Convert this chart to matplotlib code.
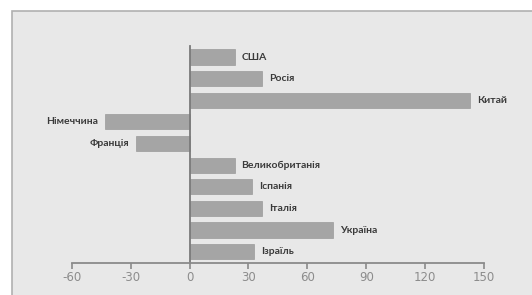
import matplotlib.pyplot as plt
from matplotlib.patches import Rectangle

# country labels and values (top to bottom)
countries = ['США', 'Росія', 'Китай', 'Німеччина', 'Франція',
             'Великобританія', 'Іспанія', 'Італія', 'Україна', 'Ізраїль']
values = [23, 37, 143, -43, -27, 23, 32, 37, 73, 33]
xticks = [-60, -30, 0, 30, 60, 90, 120, 150]

fig = plt.figure(figsize=(5.32, 2.95), dpi=100)
fig.patch.set_facecolor('white')

# grey panel behind the chart
panel = Rectangle((12 / 532, -0.05), 1.0, 1 - 11 / 295 + 0.05,
                  transform=fig.transFigure, facecolor='#e8e8e8',
                  edgecolor='#b0b0b0', linewidth=1.2, zorder=-5)
fig.patches.append(panel)

ax = fig.add_axes([71.7 / 532, 1 - 262.5 / 295, (484 - 71.7) / 532, (262.5 - 46.2) / 295])
ax.set_zorder(1)
ax.patch.set_alpha(0)

pos = list(range(len(countries)))
ax.barh(pos, values, height=0.7, color='#a5a5a5', edgecolor='#9a9a9a', linewidth=0.5, zorder=2)

for y, v, name in zip(pos, values, countries):
    if v >= 0:
        ax.annotate(name, (v, y), xytext=(5, 0), textcoords='offset points',
                    ha='left', va='center', fontsize=7.5, fontweight='bold',
                    family='Lato', color='#3a3a3a')
    else:
        ax.annotate(name, (v, y), xytext=(-5, 0), textcoords='offset points',
                    ha='right', va='center', fontsize=7.5, fontweight='bold',
                    family='Lato', color='#3a3a3a')

ax.set_xlim(-60, 150)
ax.set_ylim(len(countries) - 0.5, -0.5)
ax.set_xticks(xticks)
ax.set_xticklabels([str(t) for t in xticks], fontsize=8.5, color='#8c8c8c',
                   family='DejaVu Sans')
ax.set_yticks([])

ax.spines['top'].set_visible(False)
ax.spines['right'].set_visible(False)
ax.spines['left'].set_position(('data', 0))
ax.spines['left'].set_color('#7a7a7a')
ax.spines['left'].set_linewidth(1.3)
ax.spines['bottom'].set_color('#8a8a8a')
ax.spines['bottom'].set_linewidth(1.3)
ax.tick_params(axis='x', direction='out', length=4, width=1.2, color='#8a8a8a', pad=2)

fig.savefig('out.png', dpi=100)
